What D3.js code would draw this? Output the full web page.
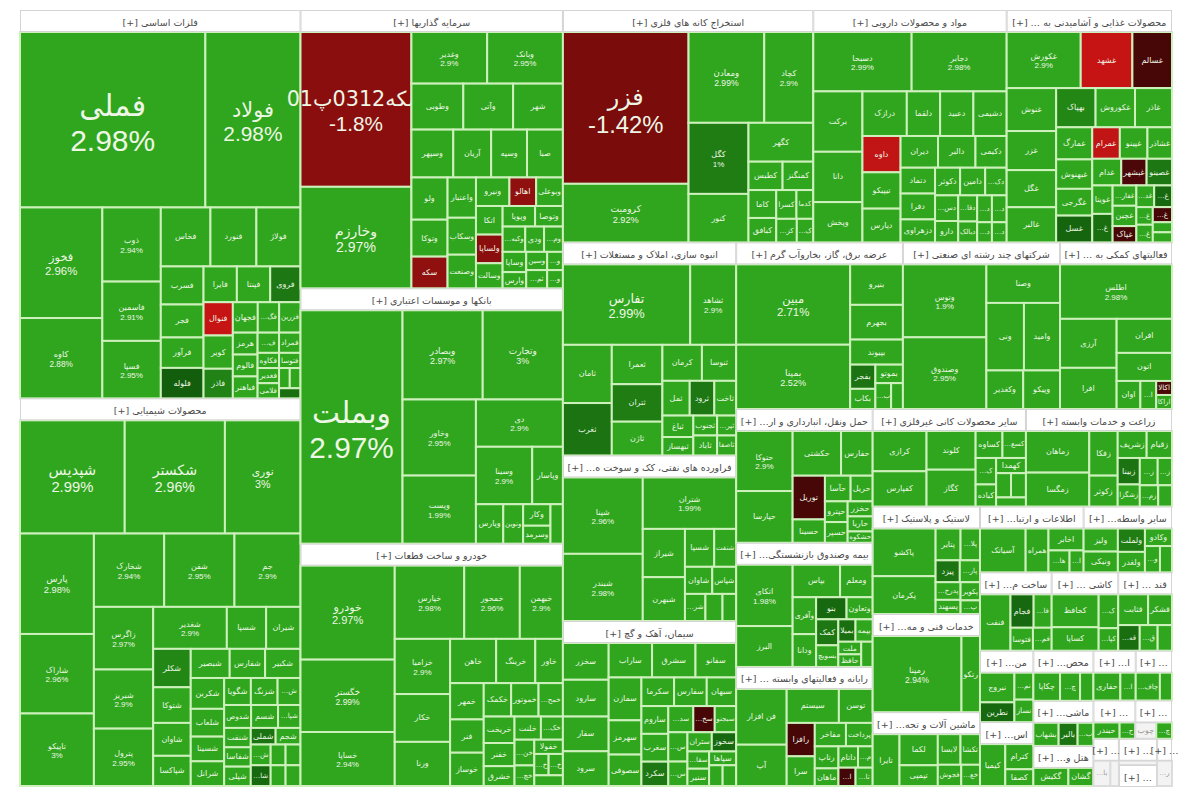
<!DOCTYPE html>
<html>
<head>
<meta charset="utf-8">
<script src="https://cdn.jsdelivr.net/npm/d3@7"></script>
<style>
  body { margin: 0; background: #fff; }
  svg { display: block; }
</style>
</head>
<body>
<svg id="map" width="1200" height="800"></svg>
<script>
// Market map (treemap) of the Tehran exchange: sectors -> symbols, colour by daily change

const sectorNames = [
  "فلزات اساسی", "محصولات شیمیایی", "سرمایه گذاریها", "بانکها و موسسات اعتباری",
  "خودرو و ساخت قطعات", "استخراج کانه های فلزی", "مواد و محصولات دارویی",
  "محصولات غذایی و آشامیدنی به جز قند و شکر", "انبوه سازی، املاک و مستغلات",
  "فراورده های نفتی، کک و سوخت هسته ای", "سیمان، آهک و گچ", "عرضه برق، گاز، بخاروآب گرم",
  "شرکتهای چند رشته ای صنعتی", "فعالیتهای کمکی به نهادهای مالی واسط",
  "حمل ونقل، انبارداری و ارتباطات", "بیمه وصندوق بازنشستگی به جز تامین اجتماعی",
  "رایانه و فعالیتهای وابسته به آن", "سایر محصولات کانی غیرفلزی", "زراعت و خدمات وابسته",
  "لاستیک و پلاستیک", "خدمات فنی و مهندسی", "ماشین آلات و تجهیزات",
  "اطلاعات و ارتباطات", "سایر واسطه گریهای مالی", "ساخت محصولات فلزی", "کاشی و سرامیک",
  "قند و شکر", "منسوجات", "استخراج سایر معادن", "محصولات کاغذی",
  "ماشین آلات و دستگاههای برقی", "هتل و رستوران", "استخراج نفت گاز و خدمات جنبی",
  "انتشار، چاپ و تکثیر", "حمل و نقل آبی", "محصولات چوبی", "دباغی، پرداخت چرم",
  "واسطه گریهای مالی و پولی", "استخراج زغال سنگ", "خرده فروشی"
];

// sector market value (relative)
const sectorValues = [
  1086, 1084, 728, 668, 634, 580, 448, 383, 368, 286, 285, 277, 261, 186, 182, 169, 162,
  149, 142, 115, 105, 79, 68, 58, 56, 52, 42, 38, 34, 30, 27, 24, 21, 18, 16, 14, 12, 10, 8, 7
];

// [symbol, weight inside sector, change %]
const s01 = [["فملی",300,2.98],["فولاد",154,2.98],["فخوز",84,2.96],["کاوه",61,2.88],["ذوب",40,2.94],
  ["فاسمین",32,2.91],["فسپا",31,2.95],["فخاس",27,2.95],["فنورد",25,2.97],["فولاژ",24,2.9],["فسرب",15,2.9],
  ["فجر",13,2.93],["فرآور",12,2.9],["فلوله",12,0.4],["فایرا",11,2.9],["فپنتا",11,2.92],["فروی",10,0.9],
  ["فنوال",9,-3.1],["کویر",9,2.9],["فاذر",8,1.1],["فجهان",7,2.9],["فگستر",6,2.8],["فزرین",6,2.9],
  ["هرمز",5,2.9],["فالوم",5,2.9],["فباهنر",5,2.9],["فسازان",4,2.9],["فمراد",4,2.9],["فکاوه",3,2.9],
  ["فتوسا",3,2.9],["فغدیر",3,2.9],["فلامی",3,2.9],["فبیرا",2,2.9],["فصبا",2,2.9],["فونیکا",2,0.7]];
const s02 = [["شپدیس",115,2.99],["شکستر",110,2.96],["نوری",83,3.0],["پارس",72,2.98],["شاراک",57,2.96],
  ["تاپیکو",52,3.0],["شخارک",50,2.94],["شفن",50,2.95],["جم",47,2.9],["زاگرس",36,2.97],["شبریز",34,2.9],
  ["پترول",33,2.95],["شغدیر",30,2.9],["شسپا",16,2.9],["شیران",14,2.9],["شکلر",14,1.2],["شتوکا",13,2.9],
  ["شاوان",12,2.9],["شپاکسا",11,2.9],["شبصیر",11,2.9],["شفارس",10,2.9],["شکبیر",10,2.9],["شکربن",10,2.9],
  ["شلعاب",9,2.9],["شسینا",8,2.9],["شرانل",8,2.9],["شگویا",7,2.9],["شزنگ",7,2.9],["شصفها",6,2.9],
  ["شدوص",6,2.9],["شسم",6,2.9],["شپارس",5,2.9],["شنفت",5,2.9],["شفاسا",5,2.9],["شپلی",5,2.9],
  ["شملی",4,0.8],["شجم",4,2.9],["شتهران",4,2.9],["شامپ",4,0.6],["شاملا",3,2.9],["شکام",3,2.9],
  ["شوینده",3,2.9],["شیخ",3,2.9]];
const s03 = [["سکه0312پ01",180,-1.8],["وخارزم",118,2.97],["وغدیر",41,2.9],["وبانک",41,2.95],["وطوبی",25,2.9],
  ["وآتی",24,2.9],["شهر",24,2.9],["وسپهر",21,2.9],["آریان",19,2.9],["وسپه",18,2.9],["صبا",18,2.9],
  ["ولو",16,2.9],["وتوکا",14,2.9],["سکه",12,-1.9],["واعتبار",12,2.9],["وسکاب",11,2.9],["وصنعت",10,2.9],
  ["ونیرو",10,2.9],["اهالو",8,-1.9],["وبوعلی",8,2.9],["اتکا",8,2.9],["ولساپا",8,-1.8],["وسالت",7,2.9],
  ["وپویا",7,2.9],["وتوصا",6,2.9],["وکبهمن",6,2.9],["ودی",5,2.9],["ومشان",5,2.9],["وساپا",5,2.9],
  ["وارس",4,2.9],["وسین",4,2.9],["ثمسکن",4,2.9],["وملل",3,2.9],["وسنا",3,2.9]];
const s04 = [["وبملت",243,2.97],["وبصادر",73,2.97],["وتجارت",73,3.0],["وخاور",57,2.95],["وپست",51,1.99],
  ["دی",42,2.9],["وسینا",33,2.9],["وپاسار",18,2.9],["وپارس",11,2.9],["ونوین",8,2.9],["وکار",6,2.9],
  ["وسرمد",5,2.9],["وآیند",5,2.9]];
const s05 = [["خودرو",87,2.97],["خگستر",67,2.99],["خساپا",50,2.94],["خپارس",50,2.98],["خمحور",40,2.96],
  ["خبهمن",31,2.9],["خزامیا",30,2.9],["خکار",26,2.9],["ورنا",24,2.9],["خاهن",20,2.9],["خرینگ",17,2.9],
  ["خاور",12,2.9],["خمهر",12,2.9],["فنر",11,2.9],["خوساز",11,2.9],["خکمک",9,2.9],["خموتور",9,2.9],
  ["خمحرکه",8,2.9],["خریخت",8,2.9],["خفنر",7,2.9],["خشرق",6,2.9],["خلنت",6,2.9],["خکرمان",5,2.9],
  ["خنصیر",5,2.9],["خچرخش",4,2.9],["خفولا",4,2.9],["خدیزل",3,2.9],["خاذین",3,2.9],["ختوقا",3,2.9]];
const s06 = [["فزر",197,-1.42],["کرومیت",76,2.92],["ومعادن",71,2.99],["کچاد",46,2.9],["کگل",44,1.0],
  ["کنور",30,2.9],["کگهر",26,2.9],["کطبس",10,2.9],["کمنگنز",9,2.9],["کاما",8,2.9],["کبافق",7,2.9],
  ["کسرا",6,2.9],["کدما",5,2.9],["کزغال",5,2.9],["کپرور",4,2.9]];
const s07 = [["دسبحا",59,2.99],["دجابر",57,2.98],["برکت",30,2.9],["دانا",25,2.9],["وپخش",20,2.9],
  ["درازک",20,2.9],["دلقما",15,2.9],["دعبید",15,2.9],["دشیمی",15,2.9],["داوه",14,-3.0],["تیپیکو",14,2.9],
  ["دپارس",13,2.9],["دیران",12,2.9],["دالبر",12,2.9],["دکیمی",10,2.9],["دتماد",9,2.9],["دفرا",9,2.9],
  ["دزهراوی",8,2.9],["دکوثر",7,2.9],["دامین",7,2.9],["دکپسول",6,2.9],["دسبحان",6,2.9],["دارو",5,2.9],
  ["دقاضی",5,2.9],["دبالک",4,2.9],["دروز",4,2.9],["دسینا",4,2.9],["دفارا",3,2.9],["دتولید",3,2.9]];
const s08 = [["غکورش",43,2.9],["غشهد",30,-3.1],["غسالم",23,-0.3],["غنوش",22,2.9],["غزر",20,2.9],
  ["غگل",19,2.9],["غالبر",18,2.9],["بهپاک",16,1.2],["غکوروش",16,2.9],["غاذر",15,2.9],["غمارگ",12,2.9],
  ["غبهنوش",11,2.9],["غگرجی",10,2.9],["غسل",10,0.5],["غمرام",9,-3.0],["غپینو",9,2.9],["غشاذر",8,2.9],
  ["غدام",8,2.9],["غبشهر",7,-0.4],["غصینو",7,0.9],["غویتا",6,2.9],["غشصفا",6,0.7],["غفارس",5,2.9],
  ["غچین",5,2.9],["غپاک",4,-0.3],["غدانه",4,2.9],["غمهرا",4,0.6],["غشان",3,2.9],["غنیلی",3,2.9],
  ["غیوان",3,-0.3],["غبهار",2,2.9],["غکب",2,2.9]];
const s09 = [["تفارس",108,2.99],["ثشاهد",39,2.9],["ثامان",30,2.9],["ثغرب",27,0.8],["ثعمرا",21,2.9],
  ["ثتران",20,1.0],["ثاژن",18,2.9],["کرمان",15,2.9],["ثنوسا",13,2.9],["ثمل",10,2.9],["ثرود",9,0.9],
  ["ثاخت",8,2.9],["ثباغ",7,2.9],["ثبهساز",6,2.9],["ثجنوب",5,2.9],["ثاباد",5,2.9],["ثپردیس",4,2.9],
  ["ثاصفا",4,2.9]];
const s10 = [["شپنا",66,2.96],["شبندر",58,2.98],["شتران",52,1.99],["شیراز",22,2.9],["شبهرن",20,2.9],
  ["شسپا",12,2.9],["شنفت",9,2.9],["شاوان",8,2.9],["شپاس",7,2.9],["شرانل",6,2.9],["شجم",5,2.9],["شفن",4,2.9]];
const s11 = [["سخزر",18,2.9],["سارود",18,2.9],["سفار",17,2.9],["سرود",17,2.9],["ساراب",16,2.9],
  ["سشرق",16,2.9],["سفانو",15,2.9],["سمازن",15,2.9],["سهرمز",12,2.9],["سصوفی",11,2.9],["سکرما",10,2.9],
  ["سفارس",10,2.9],["سبهان",9,2.9],["ساروم",8,2.9],["سغرب",8,2.9],["سکرد",7,0.9],["سدشت",7,2.9],
  ["سخاش",6,-0.3],["سبجنو",6,2.9],["سیلام",6,2.9],["سجام",5,2.9],["ستران",5,2.9],["سخوز",5,0.6],
  ["سقاین",4,2.9],["سنیر",4,2.9],["سپاها",4,2.9],["سدور",3,2.9],["سیدکو",3,2.9]];
const s12 = [["مبین",90,2.71],["بمپنا",72,2.52],["بنیرو",21,2.9],["بجهرم",18,2.9],["بپیوند",13,2.9],
  ["بفجر",6,0.8],["بکاب",5,2.9],["بموتو",5,2.9],["بزاگرس",4,2.9],["بتک",3,2.9]];
const s13 = [["وتوس",60,1.9],["وصندوق",59,2.95],["وصنا",28,2.9],["ونی",25,2.9],["وامید",24,2.9],
  ["وکغدیر",14,2.9],["وپیکو",14,2.9]];
const s14 = [["اطلس",55,2.98],["آرزی",25,2.9],["افرا",21,2.9],["افران",17,2.9],["اتون",14,2.9],
  ["اوان",6,2.9],["امین",4,2.9],["اکالا",2,-0.4],["اراکا",2,2.9]];
const s15 = [["حتوکا",36,2.9],["حپارسا",31,1.99],["حکشتی",23,2.9],["حفارس",15,2.9],["توریل",15,-0.3],
  ["حسینا",8,2.9],["حآسا",7,2.9],["حریل",6,2.9],["حپترو",5,2.9],["حسیر",5,2.9],["حخزر",4,2.9],
  ["حاریا",4,2.9],["حشکوه",3,2.9]];
const s16 = [["اتکای",36,1.98],["البرز",24,2.9],["بپاس",16,2.9],["ومعلم",11,2.9],["وآفری",9,2.9],
  ["ودانا",8,2.9],["بنو",7,0.6],["وتعاون",6,2.9],["کمک",6,0.9],["بسویچ",5,2.9],["بمیلا",4,0.7],
  ["بیمه",4,2.9],["ملت",3,2.9],["حافظ",3,2.9],["میهن",3,2.9]];
const s17 = [["فن افزار",27,2.9],["آپ",20,2.9],["سیستم",17,2.9],["توسن",11,2.9],["رافزا",9,-0.3],
  ["سرا",8,2.9],["مفاخر",7,2.9],["پرداخت",6,2.9],["رتاپ",5,2.9],["ماهان",4,2.9],["داتام",4,2.9],
  ["مداران",3,2.9],["اپرداز",3,-0.2],["تاپکیش",3,2.9]];
const s18 = [["کرازی",24,2.9],["کفپارس",21,2.9],["کلوند",21,2.9],["کگاز",20,2.9],["کساوه",8,2.9],
  ["کسعدی",7,2.9],["کسرام",6,2.9],["کباده",5,2.9],["کهمدا",5,2.9],["کخاک",4,2.9],["کصدف",4,2.9],["کفرا",3,2.9]];
const s19 = [["زماهان",27,2.9],["زمگسا",22,2.9],["زفکا",13,2.9],["زکوثر",9,2.9],["زشریف",8,2.9],
  ["زقیام",7,2.9],["زبینا",6,0.8],["زشگزا",5,2.9],["زگلدشت",5,2.9],["زدشت",4,2.9],["زملارد",4,2.9],["زپارس",3,2.9]];
const s20 = [["پاکشو",34,2.9],["پکرمان",27,2.9],["پتایر",9,2.9],["پلاسک",7,2.9],["پیزد",6,0.8],
  ["پارسان",5,2.9],["پدرخش",5,2.9],["پسهند",4,2.9],["پکویر",4,2.9],["پشاهن",3,2.9]];
const s21 = [["رمپنا",72,2.94],["رتکو",15,2.9]];
const s22 = [["تایرا",14,2.9],["لکما",12,2.9],["تپمپی",8,2.9],["لابسا",7,2.9],["تکشا",6,2.9],["فجوش",5,2.9],["خعمرا",4,2.9]];
const s23 = [["آسیاتک",26,2.9],["همراه",13,2.9],["اخابر",10,2.9],["های وب",6,2.9],["انتخاب",4,2.9]];
const s24 = [["ولیز",10,2.9],["ونیکی",9,2.9],["ولملت",8,1.0],["ولغدر",7,2.9],["وکادو",6,2.9],["ولپارس",5,2.9],["ولصنم",4,2.9]];
const s25 = [["فنفت",20,2.9],["فجام",9,0.6],["فاراک",7,2.9],["فتوسا",6,2.9],["فمراد",5,2.9]];
const s26 = [["کحافظ",14,2.9],["کساپا",10,2.9],["کسعدی",6,2.9],["کپارس",4,2.9]];
const s27 = [["قثابت",10,2.9],["قشکر",8,2.9],["قهکمت",6,0.7],["قلرست",5,2.9],["قزوین",4,2.9]];
const s28 = [["نبروج",12,2.9],["نطرین",8,0.6],["نمرینو",6,2.9],["نساز",5,2.9]];
const s29 = [["کیمیا",9,2.9],["کترام",6,2.9],["کصفا",4,2.9]];
const s30 = [["چکاپا",8,2.9],["چکارن",6,2.9],["چفیبر",4,2.9]];
const s31 = [["بشهاب",8,2.9],["بالبر",6,0.8],["بترانس",5,2.9]];
const s32 = [["گکیش",7,2.9],["گشان",5,2.9]];
const s33 = [["حفاری",7,2.9],["اعتلا",4,2.9]];
const s34 = [["چافست",6,2.9],["نشار",3,2.9]];
const s35 = [["حبندر",5,2.9],["حاسا",3,2.9]];
const s36 = [["چوب",4,null],["چنوپا",3,2.9]];
const s37 = [["بالاس",4,null],["بپاک",2,null]];
const s38 = [["وسبحان",3,null]];
const s39 = [["کزغال",3,null]];
const s40 = [["رفاه",2,null]];

const sectorStocks = [s01,s02,s03,s04,s05,s06,s07,s08,s09,s10,s11,s12,s13,s14,s15,s16,s17,s18,s19,s20,
  s21,s22,s23,s24,s25,s26,s27,s28,s29,s30,s31,s32,s33,s34,s35,s36,s37,s38,s39,s40];

// layout
var margin = { top: 10, left: 20 },
  width = 1152,
  height = 776,
  headerH = 22;

var tree = {
  name: "بورس",
  children: sectorNames.map(function (name, i) {
    var list = sectorStocks[i];
    var tot = d3.sum(list, function (d) { return d[1]; });
    return {
      name: name,
      children: list.map(function (d) {
        return { name: d[0], value: sectorValues[i] * d[1] / tot, change: d[2] };
      })
    };
  })
};

var root = d3.hierarchy(tree)
  .sum(function (d) { return d.value; })
  .sort(function (a, b) { return b.value - a.value; });

d3.treemap()
  .size([width, height])
  .tile(d3.treemapSquarify.ratio(1))
  .paddingTop(function (d) { return d.depth === 1 ? headerH : 0; })(root);

// colours: bright green at the +3% limit, darker toward zero, red side the same way
var posColor = d3.scaleLinear().domain([0, 1.8]).range(["#0b4a08", "#2fa61d"]).clamp(true);
var negColor = d3.scaleLinear().domain([-3.5, 0]).range(["#d81616", "#3a0606"]).clamp(true);
function cellColor(c) {
  if (c == null) return "#f3f3f3";
  return c >= 0 ? posColor(c) : negColor(c);
}
function fmtPct(c) { return (+c.toFixed(2)) + "%"; }

var svg = d3.select("#map");
var g = svg.append("g").attr("transform", "translate(" + margin.left + "," + margin.top + ")");

// cells
var cells = g.append("g").selectAll("g")
  .data(root.leaves())
  .enter()
  .append("g");

cells.append("rect")
  .attr("x", function (d) { return d.x0; })
  .attr("y", function (d) { return d.y0; })
  .attr("width", function (d) { return Math.max(0, d.x1 - d.x0); })
  .attr("height", function (d) { return Math.max(0, d.y1 - d.y0); })
  .attr("fill", function (d) { return cellColor(d.data.change); })
  .attr("stroke", function (d) { return d.data.change == null ? "#dcdcdc" : "#cdf0bc"; })
  .attr("stroke-width", 2);

// labels, shrunk until they fit the cell
cells.each(function (d) {
  var w = d.x1 - d.x0, h = d.y1 - d.y0;
  if (w < 14 || h < 11) return;
  var area = w * h;
  var fs = Math.max(8, Math.min(30, area / 800));
  var showPct = area > 3000 && h > 38 && w > 34;
  if (!showPct) fs = Math.min(fs, h * 0.6);
  var cx = (d.x0 + d.x1) / 2, cy = (d.y0 + d.y1) / 2;
  var col = d.data.change == null ? "#999" : "#eef6e6";
  var sel = d3.select(this);

  var name = sel.append("text")
    .attr("x", cx)
    .attr("text-anchor", "middle")
    .attr("fill", col)
    .style("font-family", "'DejaVu Sans', sans-serif")
    .style("font-size", fs + "px")
    .text(d.data.name);
  var len = name.node().getComputedTextLength();
  var room = fs >= 16 ? w * 1.25 : w - 4;
  if (len > room) {
    fs = fs * room / len;
    name.style("font-size", fs + "px");
  }
  if (fs < 7) {
    // too narrow: cut the symbol short
    fs = 7;
    name.style("font-size", fs + "px");
    var txt = d.data.name;
    while (txt.length > 1 && name.node().getComputedTextLength() > w - 3) {
      txt = txt.slice(0, -1);
      name.text("…" + txt);
    }
    if (name.node().getComputedTextLength() > w - 2) { name.remove(); return; }
  }
  if (showPct && h > fs * 2.5) {
    name.attr("y", cy - fs * 0.14);
    var pct = sel.append("text")
      .attr("x", cx)
      .attr("y", cy + fs * 1.04)
      .attr("text-anchor", "middle")
      .attr("fill", col)
      .style("font-family", "'Liberation Sans', sans-serif")
      .style("font-size", fs + "px")
      .text(fmtPct(d.data.change));
    var pl = pct.node().getComputedTextLength();
    if (pl > w - 4) pct.style("font-size", (fs * (w - 4) / pl) + "px");
  } else {
    name.attr("y", cy).attr("dominant-baseline", "central");
  }
});

// sector headers
var heads = g.append("g").selectAll("g")
  .data(root.children)
  .enter()
  .append("g");

heads.append("rect")
  .attr("x", function (d) { return d.x0 + 0.5; })
  .attr("y", function (d) { return d.y0 + 0.5; })
  .attr("width", function (d) { return d.x1 - d.x0 - 1; })
  .attr("height", headerH - 1)
  .attr("fill", "#fff")
  .attr("stroke", "#d4d4d4");

heads.append("text")
  .attr("x", function (d) { return (d.x0 + d.x1) / 2; })
  .attr("y", function (d) { return d.y0 + headerH / 2 + 1; })
  .attr("text-anchor", "middle")
  .attr("dominant-baseline", "central")
  .attr("direction", "rtl")
  .attr("fill", "#4a4a4a")
  .style("font-family", "'DejaVu Sans', sans-serif")
  .style("font-size", "9.5px")
  .each(function (d) {
    var t = d3.select(this), w = d.x1 - d.x0 - 8, txt = d.data.name;
    t.text(txt + " [+]");
    while (txt.length > 0 && this.getComputedTextLength() > w) {
      txt = txt.slice(0, -1);
      t.text(txt + "… [+]");
    }
  });
</script>
</body>
</html>
